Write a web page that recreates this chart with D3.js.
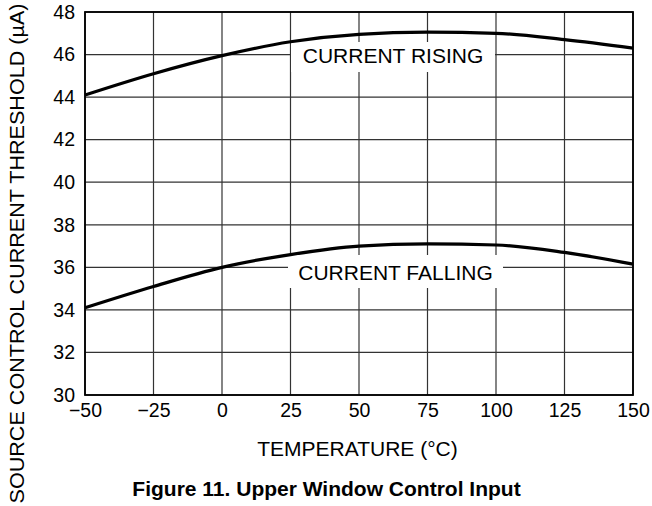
<!DOCTYPE html>
<html><head><meta charset="utf-8">
<script src="https://cdn.jsdelivr.net/npm/d3@7"></script>
<style>body{margin:0;background:#fff}svg{display:block;font-family:"Liberation Sans",Arial,sans-serif}</style>
</head><body><svg id="c" width="652" height="506"></svg>
<script>
const temps = [-50,-25,0,25,50,75,100,125,150];
const rising = [44.1,45.1,45.95,46.6,46.95,47.05,47.0,46.7,46.3];
const falling = [34.1,35.1,36.0,36.6,37.0,37.1,37.05,36.7,36.15];
const xTicks = [-50,-25,0,25,50,75,100,125,150];
const yTicks = [30,32,34,36,38,40,42,44,46,48];

const svg = d3.select("#c");
const x = d3.scaleLinear().domain([-50,150]).range([85,633]);
const y = d3.scaleLinear().domain([30,48]).range([395,12]);
const FF = "Liberation Sans, Arial, sans-serif";

const g = svg.append("g");
g.selectAll(".vg").data(xTicks).join("line")
 .attr("x1",d=>x(d)).attr("x2",d=>x(d)).attr("y1",y(30)).attr("y2",y(48))
 .attr("stroke","#333").attr("stroke-width",1.2);
g.selectAll(".hg").data(yTicks).join("line")
 .attr("y1",d=>y(d)).attr("y2",d=>y(d)).attr("x1",x(-50)).attr("x2",x(150))
 .attr("stroke","#333").attr("stroke-width",1.2);

const line = d3.line().x((d,i)=>x(temps[i])).y(d=>y(d)).curve(d3.curveMonotoneX);

function label(txt, cx, base, bx0, bx1, by0, by1){
  g.append("rect").attr("x",bx0).attr("y",by0).attr("width",bx1-bx0).attr("height",by1-by0).attr("fill","#fff");
  g.append("text").attr("x",cx).attr("y",base).attr("text-anchor","middle")
   .attr("font-size",21).text(txt);
}
label("CURRENT RISING", 393, 63, 291, 495, 42, 72);
label("CURRENT FALLING", 395.5, 280, 288, 503, 255, 288);

[rising,falling].forEach(s=>{
  g.append("path").attr("d",line(s)).attr("fill","none").attr("stroke","#000").attr("stroke-width",3.2);
});

g.append("rect").attr("x",x(-50)).attr("y",y(48)).attr("width",x(150)-x(-50)).attr("height",y(30)-y(48))
 .attr("fill","none").attr("stroke","#000").attr("stroke-width",1.8);

const xAxis = d3.axisBottom(x).tickValues(xTicks).tickSize(0).tickPadding(8)
  .tickFormat(d=> d<0 ? "\u2212"+Math.abs(d) : d);
const xa = svg.append("g").attr("transform",`translate(0,${y(30)})`).call(xAxis);
xa.select(".domain").remove();
xa.selectAll("text").attr("font-size",19.5).attr("fill","#000").attr("font-family",FF);

const yAxis = d3.axisLeft(y).tickValues(yTicks).tickSize(0).tickPadding(10);
const ya = svg.append("g").attr("transform",`translate(${x(-50)},0)`).call(yAxis);
ya.select(".domain").remove();
ya.selectAll("text").attr("font-size",19.5).attr("fill","#000").attr("font-family",FF);

svg.append("text").attr("x",357.5).attr("y",456).attr("text-anchor","middle").attr("font-size",21)
 .text("TEMPERATURE (\u00B0C)");
svg.append("text").attr("transform","translate(24,253.5) rotate(-90)").attr("text-anchor","middle").attr("font-size",21)
 .attr("textLength",500).attr("lengthAdjust","spacingAndGlyphs")
 .text("SOURCE CONTROL CURRENT THRESHOLD (\u00B5A)");
svg.append("text").attr("x",326.5).attr("y",496).attr("text-anchor","middle").attr("font-size",21).attr("font-weight","bold")
 .text("Figure 11. Upper Window Control Input");
</script></body></html>
